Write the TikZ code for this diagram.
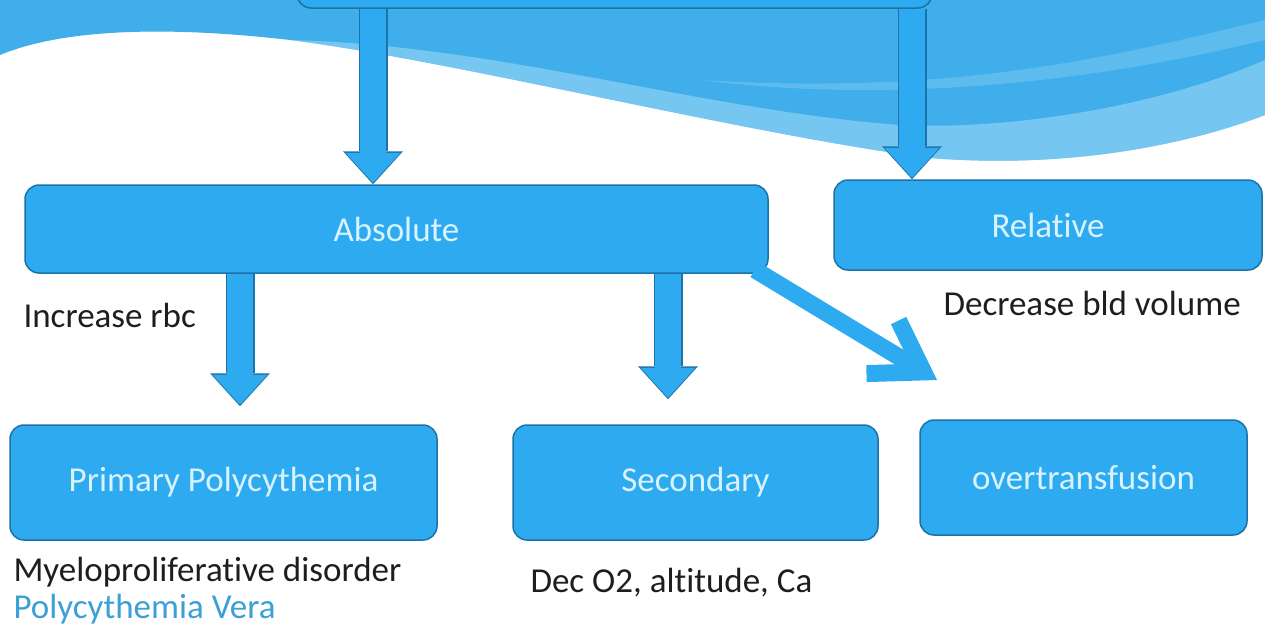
\documentclass[tikz,border=0pt]{standalone}
\usepackage{fontspec}
\setmainfont{Carlito}[Ligatures={NoCommon,NoRequired,NoContextual}]
\usetikzlibrary{positioning,arrows.meta,calc}
\definecolor{sky}{HTML}{2EABF0}
\definecolor{skyedge}{HTML}{1D72AA}
\definecolor{skytext}{HTML}{D8F2FF}
\definecolor{wave}{HTML}{3FAEEA}
\definecolor{wavelite}{HTML}{9AD6F6}
\definecolor{ink}{HTML}{1E1E1E}
\definecolor{vera}{HTML}{3C9FD6}
\newcommand{\blockarr}[2]{%
  \draw[blkedge] #1 -- #2;
  \draw[blk] #1 -- #2;}
\tikzset{
  box/.style={draw=skyedge, line width=1.5pt, rounded corners=14pt, fill=sky,
    text=skytext, align=center},
  blkedge/.style={-{Triangle[width=60pt,length=33pt,line width=0pt]}, line width=29pt, color=skyedge},
  blk/.style={-{Triangle[width=55pt,length=30pt,line width=0pt]}, line width=26pt, color=sky,
    shorten >=1.5pt},
  diag/.style={-{Straight Barb[length=48pt,width=62pt]}, line width=17pt, color=sky},
  lab/.style={text=ink, anchor=west, align=left},
}

\begin{document}
\begin{tikzpicture}[x=1pt, y=-1pt, font=\fontsize{35pt}{37pt}\selectfont]
    \useasboundingbox (0,0) rectangle (1265,630);
    \fill[white] (0,0) rectangle (1265,630);
    % wave at the top
    \fill[wave] (0,0) -- (1265,0) -- (1265,115)
      .. controls (1200,140) and (1080,170) .. (930,158)
      .. controls (750,135) and (450,60) .. (290,40)
      .. controls (160,25) and (60,30) .. (0,55) -- cycle;
    \fill[wavelite, opacity=0.6] (290,40)
      .. controls (450,60) and (750,135) .. (930,158)
      .. controls (1080,170) and (1200,140) .. (1265,115) -- (1265,60)
      .. controls (1150,110) and (1000,130) .. (900,125)
      .. controls (700,110) and (500,45) .. (290,40) -- cycle;
    \fill[wavelite, opacity=0.35] (1265,20)
      .. controls (1100,60) and (950,95) .. (700,80)
      .. controls (900,105) and (1100,80) .. (1265,40) -- cycle;

    \node[box, minimum width=635pt, minimum height=96pt] (src) at (614.5,-40) {};
    \node[box, minimum width=743pt, minimum height=88pt] (abs) at (396.5,229) {Absolute};
    \node[box, minimum width=428pt, minimum height=90pt] (rel) at (1048,225) {Relative};
    \node[box, minimum width=427pt, minimum height=115pt] (prim) at (223.5,482.5) {Primary Polycythemia};
    \node[box, minimum width=365pt, minimum height=115pt] (sec) at (695.5,482.5) {Secondary};
    \node[box, minimum width=327pt, minimum height=115pt] (ovt) at (1083.5,477.5) {overtransfusion};

    \node[lab] (rbc) at (20,315) {Increase rbc};
    \node[lab] (bld) at (940,303) {Decrease bld volume};
    \node[lab] (myelo) at (10,591) {Myeloproliferative disorder\\\color{vera}Polycythemia Vera};
    \node[lab] (dec) at (527,583) {Dec O2, altitude, Ca};

    \coordinate (la) at (373,0);
    \coordinate (ra) at (912,0);
    \coordinate (pa) at (240,0);
    \coordinate (sa) at (668,0);
    \coordinate (ovttip) at (937,380);
    \blockarr{(src.south -| la)}{(abs.north -| la)}
    \blockarr{(src.south -| ra)}{(rel.north -| ra)}
    \blockarr{(abs.south -| pa)}{([yshift=18pt]prim.north -| pa)}
    \blockarr{(abs.south -| sa)}{([yshift=25pt]sec.north -| sa)}
    \draw[diag] ([xshift=-14pt,yshift=4pt]abs.south east) -- (ovttip);
  \end{tikzpicture}
\end{document}
